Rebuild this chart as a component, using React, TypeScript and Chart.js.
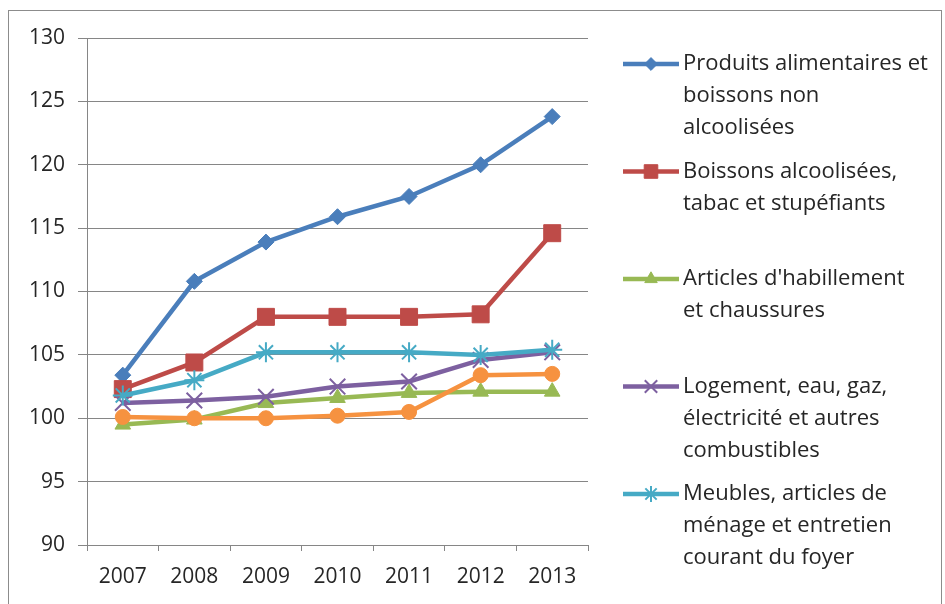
import React, { useEffect, useRef } from 'react';
import { Chart, registerables } from 'chart.js';
import { drawPoint } from 'chart.js/helpers';

Chart.register(...registerables);

const YEARS = ['2007', '2008', '2009', '2010', '2011', '2012', '2013'];

const ALIMENTAIRES = [103.4, 110.8, 113.9, 115.9, 117.5, 120.0, 123.8];
const ALCOOL = [102.3, 104.4, 108.0, 108.0, 108.0, 108.2, 114.6];
const HABILLEMENT = [99.5, 99.9, 101.2, 101.6, 102.0, 102.1, 102.1];
const LOGEMENT = [101.2, 101.4, 101.7, 102.5, 102.9, 104.6, 105.2];
const MEUBLES = [101.8, 103.0, 105.2, 105.2, 105.2, 105.0, 105.4];
const SERIE6 = [100.1, 100.0, 100.0, 100.2, 100.5, 103.4, 103.5];

const LABEL_ALIMENTAIRES = ['Produits alimentaires et', 'boissons non', 'alcoolisées'];
const LABEL_ALCOOL = ['Boissons alcoolisées,', 'tabac et stupéfiants'];
const LABEL_HABILLEMENT = ["Articles d'habillement", 'et chaussures'];
const LABEL_LOGEMENT = ['Logement, eau, gaz,', 'électricité et autres', 'combustibles'];
const LABEL_MEUBLES = ['Meubles, articles de', 'ménage et entretien', 'courant du foyer'];

const FONT = '"Open Sans", "DejaVu Sans", sans-serif';
const TEXT = '#262626';
const AXIS = '#868686';

const SERIES = [
  { lines: LABEL_ALIMENTAIRES, data: ALIMENTAIRES, color: '#4A7EBB', style: 'rectRot', r: 8, bw: 1 },
  { lines: LABEL_ALCOOL, data: ALCOOL, color: '#BE4B48', style: 'rect', r: 12, bw: 1 },
  { lines: LABEL_HABILLEMENT, data: HABILLEMENT, color: '#98B954', style: 'triangle', r: 9, bw: 1 },
  { lines: LABEL_LOGEMENT, data: LOGEMENT, color: '#7D60A0', style: 'crossRot', r: 11, bw: 2 },
  { lines: LABEL_MEUBLES, data: MEUBLES, color: '#46AAC5', style: 'star', r: 10, bw: 2 },
  { lines: [] as string[], data: SERIE6, color: '#F69240', style: 'circle', r: 7.5, bw: 1 },
];

const framePlugin = {
  id: 'frame',
  beforeDraw(chart: any) {
    const ctx = chart.ctx;
    ctx.save();
    ctx.fillStyle = '#ffffff';
    ctx.fillRect(0, 0, chart.width, chart.height);
    ctx.strokeStyle = '#8c8c8c';
    ctx.lineWidth = 1;
    ctx.strokeRect(8.5, 10.5, 933, 700);
    ctx.restore();
  },
};

const legendPlugin = {
  id: 'sideLegend',
  afterDraw(chart: any) {
    const ctx = chart.ctx;
    const x0 = chart.chartArea.right + 35;
    const lineLen = 56;
    const textX = x0 + lineLen + 4;
    const firstY = 64;
    const itemStep = 107.5;
    const lineStep = 32;
    ctx.save();
    chart.data.datasets.forEach((ds: any, i: number) => {
      const lines: string[] = ds.legendLines || [];
      if (!lines.length) return;
      const y = firstY + i * itemStep;
      ctx.strokeStyle = ds.borderColor;
      ctx.lineWidth = 4.5;
      ctx.beginPath();
      ctx.moveTo(x0, y);
      ctx.lineTo(x0 + lineLen, y);
      ctx.stroke();
      ctx.fillStyle = ds.pointBackgroundColor;
      ctx.strokeStyle = ds.pointBorderColor;
      ctx.lineWidth = ds.pointBorderWidth;
      drawPoint(ctx, { pointStyle: ds.pointStyle, radius: ds.pointRadius * 0.8, rotation: 0, borderWidth: ds.pointBorderWidth } as any, x0 + lineLen / 2, y);
      ctx.fillStyle = TEXT;
      ctx.font = `22px ${FONT}`;
      ctx.textBaseline = 'middle';
      ctx.textAlign = 'left';
      lines.forEach((t, k) => ctx.fillText(t, textX, y + k * lineStep));
    });
    ctx.restore();
  },
};

export default function App() {
  const ref = useRef<HTMLCanvasElement | null>(null);

  useEffect(() => {
    if (!ref.current) return;
    const chart = new Chart(ref.current, {
      type: 'line',
      data: {
        labels: YEARS,
        datasets: SERIES.map((s, i) => ({
          label: s.lines.join(' '),
          legendLines: s.lines,
          data: s.data,
          borderColor: s.color,
          backgroundColor: s.color,
          borderWidth: 4.5,
          tension: 0,
          pointStyle: s.style,
          pointRadius: s.r,
          pointBackgroundColor: s.color,
          pointBorderColor: s.color,
          pointBorderWidth: s.bw,
          order: SERIES.length - i,
        })) as any,
      },
      options: {
        responsive: false,
        animation: false,
        events: [],
        layout: { padding: { left: 0, top: 38, right: 357, bottom: 0 } },
        plugins: {
          legend: { display: false },
          title: { display: false },
          tooltip: { enabled: false },
        },
        scales: {
          x: {
            type: 'category',
            offset: true,
            grid: {
              display: true,
              offset: true,
              drawOnChartArea: false,
              drawTicks: true,
              tickLength: 6,
              color: AXIS,
            },
            border: { display: true, color: AXIS, width: 1 },
            ticks: {
              color: TEXT,
              font: { family: FONT, size: 21 },
              padding: 13,
              maxRotation: 0,
              autoSkip: false,
            },
            afterFit: (s: any) => {
              s.height = 59;
            },
          },
          y: {
            min: 90,
            max: 130,
            ticks: {
              stepSize: 5,
              color: TEXT,
              font: { family: FONT, size: 21 },
              padding: 13,
            },
            grid: { color: AXIS, tickLength: 9, lineWidth: 1 },
            border: { display: true, color: AXIS, width: 1 },
            afterFit: (s: any) => {
              s.width = 87;
            },
          },
        },
      },
      plugins: [framePlugin, legendPlugin],
    });
    return () => chart.destroy();
  }, []);

  return (
    <div style={{ position: 'absolute', left: 0, top: 0, width: 945, height: 604 }}>
      <canvas ref={ref} width={945} height={604} style={{ display: 'block' }} />
    </div>
  );
}
